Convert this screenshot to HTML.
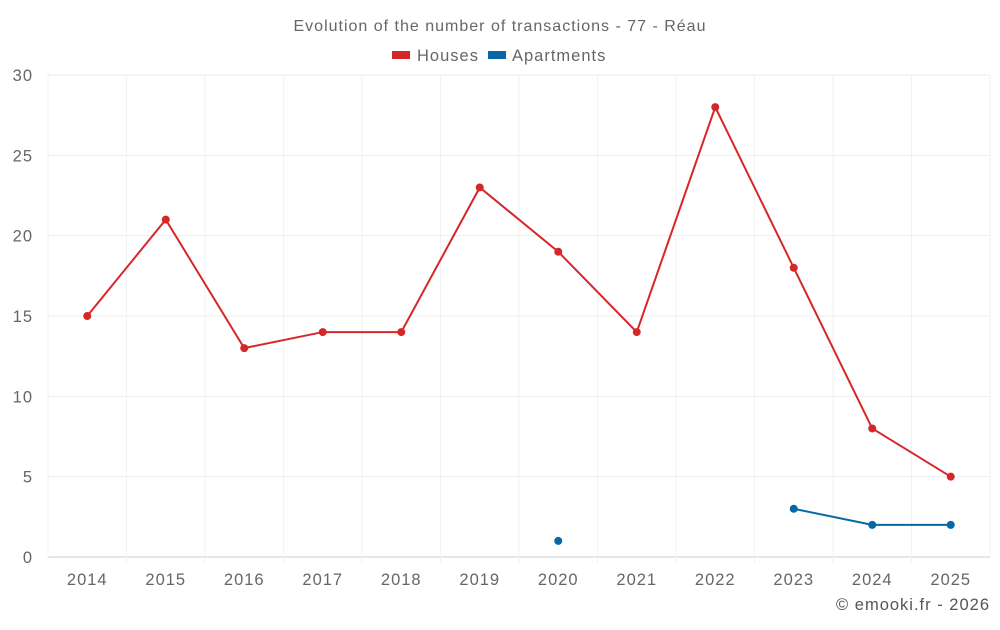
<!DOCTYPE html>
<html><head><meta charset="utf-8"><style>
body{margin:0;background:#fff;font-family:"Liberation Sans",sans-serif;}
svg text{font-family:"Liberation Sans",sans-serif;letter-spacing:1px;}
</style></head><body>
<svg id="chart" width="1000" height="625">
<text x="500" y="31" text-anchor="middle" font-size="16" fill="#666">Evolution of the number of transactions - 77 - Réau</text>
<g>
<g><rect x="392" y="51" width="18" height="8" fill="#d62728"/><text x="417" y="61" font-size="16.5" fill="#666">Houses</text></g>
<g><rect x="488" y="51" width="18" height="8" fill="#0868a6"/><text x="512" y="61" font-size="16.5" fill="#666">Apartments</text></g>
</g>
<g id="grid"></g><g id="axes"></g><g id="series"></g>
<text x="990" y="610" text-anchor="end" font-size="16.5" fill="#555">© emooki.fr - 2026</text>
</svg>
<script>
const years=[2014,2015,2016,2017,2018,2019,2020,2021,2022,2023,2024,2025];
const houses=[15,21,13,14,14,23,19,14,28,18,8,5];
const apartments=[null,null,null,null,null,null,1,null,null,3,2,2];
const yTicks=[0,5,10,15,20,25,30];
const NS="http://www.w3.org/2000/svg";
const L=48,R=990,T=75,B=557,yMax=30;
const step=(R-L)/years.length;
const xs=i=>L+step*(i+0.5);
const ys=v=>B-(v/yMax)*(B-T);
function mk(tag,attrs,parent){const e=document.createElementNS(NS,tag);for(const k in attrs)e.setAttribute(k,attrs[k]);parent.appendChild(e);return e;}
const grid=document.getElementById('grid'),axes=document.getElementById('axes'),ser=document.getElementById('series');
yTicks.forEach(t=>{
 const l=mk('line',{x1:L,x2:R,y1:ys(t),y2:ys(t),stroke:t===0?'#ccc':'#eeeeee'},grid);
 
 
 const tx=mk('text',{x:33,y:ys(t)+6,'text-anchor':'end','font-size':16.5,fill:'#666'},axes);
 tx.textContent=t;
 
 
});
for(let i=0;i<=years.length;i++){
 const x=L+step*i;
 const l=mk('line',{x1:x,x2:x,y1:T,y2:B+(i===0||i===years.length?0:6),stroke:'#f2f2f2'},grid);
 
 
}
years.forEach((y,i)=>{
 const tx=mk('text',{x:xs(i),y:585,'text-anchor':'middle','font-size':16.5,fill:'#666'},axes);
 tx.textContent=y;
 
 
});
function drawSeries(vals,color,name){
 let segs=[],cur=[];
 vals.forEach((v,i)=>{if(v==null){if(cur.length)segs.push(cur);cur=[];}else cur.push([xs(i),ys(v)]);});
 if(cur.length)segs.push(cur);
 segs.forEach(s=>{if(s.length>1){const p=mk('polyline',{points:s.map(q=>q.join(',')).join(' '),fill:'none',stroke:color,'stroke-width':2},ser);
 
 }});
 vals.forEach((v,i)=>{if(v==null)return;const c=mk('circle',{cx:xs(i),cy:ys(v),r:4,fill:color},ser);
 
 });
}
drawSeries(houses,'#d62728','houses');
drawSeries(apartments,'#0868a6','apartments');
</script>
</body></html>
